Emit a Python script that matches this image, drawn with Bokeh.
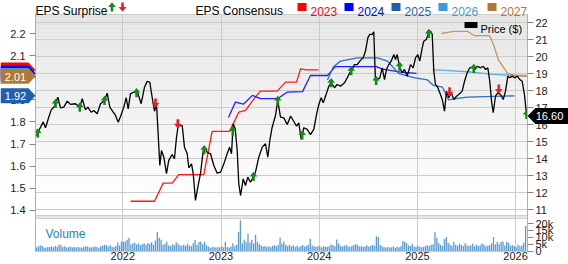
import numpy as np
from bokeh.plotting import figure
from bokeh.layouts import column
from bokeh.core.properties import value
from bokeh.models import (Range1d, LinearAxis, FixedTicker, PrintfTickFormatter,
                          CustomJSTickFormatter, Label, PolyAnnotation, ColumnDataSource)
from bokeh.embed import file_html
from bokeh.resources import INLINE

# ---------------- data ----------------
price_t = [2021.121, 2021.162, 2021.189, 2021.213, 2021.246, 2021.271, 2021.304, 2021.338, 2021.366, 2021.399,
           2021.434, 2021.467, 2021.518, 2021.562, 2021.587, 2021.620, 2021.644, 2021.678, 2021.705, 2021.739,
           2021.773, 2021.814, 2021.841, 2021.868, 2021.892, 2021.926, 2021.953, 2021.977, 2022.010, 2022.035,
           2022.055, 2022.078, 2022.112, 2022.153, 2022.187, 2022.221, 2022.248, 2022.275, 2022.299, 2022.323,
           2022.343, 2022.360, 2022.377, 2022.394, 2022.418, 2022.445, 2022.468, 2022.503, 2022.526, 2022.547,
           2022.564, 2022.605, 2022.628, 2022.656, 2022.672, 2022.700, 2022.717, 2022.740, 2022.764, 2022.791,
           2022.819, 2022.842, 2022.859, 2022.893, 2022.927, 2022.961, 2022.995, 2023.029, 2023.063, 2023.087,
           2023.107, 2023.124, 2023.145, 2023.165, 2023.181, 2023.199, 2023.226, 2023.249, 2023.273, 2023.300,
           2023.328, 2023.351, 2023.385, 2023.420, 2023.453, 2023.477, 2023.497, 2023.521, 2023.555, 2023.578,
           2023.606, 2023.640, 2023.674, 2023.708, 2023.741, 2023.769, 2023.792, 2023.817, 2023.843, 2023.878,
           2023.911, 2023.945, 2023.973, 2023.996, 2024.020, 2024.041, 2024.064, 2024.098, 2024.122, 2024.156,
           2024.183, 2024.217, 2024.258, 2024.285, 2024.312, 2024.336, 2024.359, 2024.387, 2024.413, 2024.448,
           2024.471, 2024.495, 2024.515, 2024.540, 2024.556, 2024.573, 2024.591, 2024.617, 2024.642, 2024.665,
           2024.685, 2024.709, 2024.733, 2024.760, 2024.777, 2024.794, 2024.821, 2024.845, 2024.869, 2024.896,
           2024.930, 2024.957, 2024.981, 2025.004, 2025.024, 2025.049, 2025.065, 2025.090, 2025.110, 2025.133,
           2025.151, 2025.167, 2025.184, 2025.208, 2025.228, 2025.253, 2025.276, 2025.296, 2025.320, 2025.344,
           2025.371, 2025.398, 2025.422, 2025.456, 2025.480, 2025.507, 2025.534, 2025.558, 2025.585, 2025.609,
           2025.643, 2025.670, 2025.694, 2025.717, 2025.737, 2025.755, 2025.772, 2025.795, 2025.819, 2025.846,
           2025.874, 2025.897, 2025.921, 2025.941, 2025.965, 2025.989, 2026.016, 2026.043, 2026.067, 2026.090,
           2026.111]
price_v = [15.36, 15.85, 16.15, 15.82, 16.44, 16.87, 17.07, 17.61, 16.99, 17.03,
           17.38, 17.19, 17.23, 17.03, 17.52, 16.87, 17.03, 16.73, 16.83, 16.64,
           17.23, 17.42, 17.85, 17.03, 16.83, 16.54, 16.15, 16.48, 17.03, 17.58,
           16.93, 17.81, 17.91, 17.85, 17.23, 18.20, 18.55, 18.49, 17.61, 16.79,
           17.23, 15.46, 13.60, 14.48, 14.09, 13.12, 13.90, 14.25, 14.00, 15.27,
           15.95, 15.95, 14.68, 14.29, 13.47, 13.70, 13.12, 11.55, 12.33, 13.12,
           14.48, 14.58, 14.38, 14.29, 13.60, 13.15, 13.21, 13.70, 14.29, 14.68,
           14.29, 16.05, 15.76, 14.48, 12.53, 11.84, 12.82, 12.43, 12.92, 12.62,
           12.92, 13.21, 14.09, 14.68, 14.88, 14.09, 15.07, 15.85, 16.54, 17.42,
           16.44, 16.40, 16.01, 16.50, 16.20, 15.91, 16.11, 15.13, 15.82, 15.72,
           15.42, 15.72, 16.60, 17.19, 17.58, 17.28, 17.67, 18.26, 18.46, 18.17,
           18.36, 18.26, 18.46, 18.75, 19.05, 19.24, 19.53, 19.53, 19.73, 19.93,
           20.31, 21.10, 21.30, 21.30, 21.45, 18.55, 18.65, 18.75, 19.34, 18.65,
           19.24, 19.53, 19.73, 20.12, 19.83, 20.12, 19.34, 19.05, 19.24, 18.85,
           19.53, 19.34, 19.93, 20.12, 19.73, 20.51, 20.90, 21.00, 21.30, 21.49,
           21.30, 19.14, 18.36, 18.17, 17.87, 17.48, 16.79, 17.97, 17.58, 17.87,
           17.48, 17.67, 17.77, 17.97, 18.55, 19.05, 19.34, 19.38, 19.24, 19.43,
           19.34, 19.43, 19.24, 19.34, 18.55, 17.38, 16.70, 17.67, 17.87, 17.77,
           17.48, 17.97, 18.85, 18.75, 18.85, 18.75, 18.85, 18.65, 18.55, 17.77,
           16.60]

surprise_t = [2021.134, 2021.315, 2021.562, 2021.814, 2022.140, 2022.333, 2022.560, 2022.829,
              2023.120, 2023.331, 2023.578, 2023.827, 2024.122, 2024.326, 2024.580, 2024.818,
              2025.116, 2025.327, 2025.574, 2025.829, 2026.111]
surprise_dir = ["up", "up", "up", "up", "up", "down", "down", "up",
                "up", "up", "up", "up", "up", "up", "up", "up",
                "up", "down", "up", "down", "up"]

cons_years = ["2023", "2024", "2025", "2026", "2027"]
cons_t = {
    "2023": [2022.078, 2022.323, 2022.411, 2022.503, 2022.570, 2022.825, 2022.910, 2023.087, 2023.181,
             2023.250, 2023.328, 2023.402, 2023.572, 2023.657, 2023.769, 2023.810, 2023.871, 2023.993],
    "2024": [2023.076, 2023.147, 2023.229, 2023.320, 2023.402, 2023.575, 2023.677, 2023.830, 2023.911,
             2024.084, 2024.165, 2024.583, 2024.634, 2024.828, 2024.991],
    "2025": [2024.084, 2024.145, 2024.217, 2024.390, 2024.594, 2024.696, 2024.808, 2024.961, 2025.103,
             2025.164, 2025.256, 2025.317, 2025.388, 2025.510, 2025.989],
    "2026": [2025.154, 2025.286, 2025.510, 2025.775, 2025.989, 2026.111],
    "2027": [2025.245, 2025.367, 2025.510, 2025.581, 2025.734, 2025.775, 2025.826, 2025.918, 2025.989, 2026.121],
}
cons_v = {
    "2023": [1.441, 1.441, 1.523, 1.523, 1.561, 1.561, 1.757, 1.757, 1.844,
             1.852, 1.900, 1.939, 1.939, 1.980, 1.980, 2.040, 2.035, 2.035],
    "2024": [1.82, 1.89, 1.88, 1.92, 1.905, 1.905, 1.935, 1.937, 2.01,
             2.01, 2.05, 2.05, 2.04, 2.025, 2.02],
    "2025": [1.99, 2.05, 2.075, 2.09, 2.09, 2.075, 2.02, 2.00, 1.99,
             1.965, 1.957, 1.90, 1.905, 1.912, 1.918],
    "2026": [2.035, 2.033, 2.027, 2.015, 2.01, 2.01],
    "2027": [2.20, 2.21, 2.21, 2.19, 2.19, 2.15, 2.08, 2.02, 2.01, 2.006],
}
cons_line_color = {"2023": "#ff1a1a", "2024": "#1f1fff", "2025": "#2f6fc2", "2026": "#5aaee0", "2027": "#c8955a"}
cons_key_color = {"2023": "#ff0000", "2024": "#0000ff", "2025": "#1f5fae", "2026": "#3d9ad8", "2027": "#b07a34"}

vol_start = 2021.121
vol_k = [2.5, 3.5, 4.0, 3.8, 2.6, 2.4, 2.9, 3.0, 3.3, 2.8, 3.6, 3.1, 4.8,
         4.2, 3.0, 3.4, 2.6, 2.8, 3.2, 2.5, 2.9, 2.6, 3.0, 2.7, 2.4, 3.1,
         3.4, 3.2, 2.8, 2.6, 3.0, 3.3, 2.9, 2.2, 3.5, 3.8, 4.6, 4.1, 3.2,
         4.4, 3.0, 2.7, 3.6, 6.2, 4.0, 7.0, 6.8, 6.9, 8.2, 9.6, 4.9, 5.5,
         6.0, 4.8, 5.4, 4.2, 5.0, 5.6, 4.4, 5.8, 5.2, 6.4, 4.6, 7.6, 13.8,
         9.6, 8.2, 4.5, 5.2, 6.8, 4.0, 3.4, 5.0, 4.2, 6.4, 5.0, 4.1, 3.6,
         4.6, 3.8, 5.2, 4.0, 3.4, 5.6, 8.0, 4.4, 6.6, 6.9, 5.0, 6.8, 4.2,
         3.2, 2.4, 2.7, 2.9, 2.5, 3.0, 2.6, 3.4, 2.8, 6.8, 3.0, 2.6, 3.3,
         5.7, 3.4, 4.6, 13.8, 22.3, 5.5, 8.2, 6.4, 12.6, 6.2, 8.0, 5.4, 11.8,
         6.8, 5.0, 4.0, 3.3, 3.6, 3.0, 3.4, 2.8, 3.6, 4.2, 3.4, 4.5, 9.6,
         5.2, 7.0, 4.3, 3.4, 4.6, 3.2, 4.2, 3.0, 3.8, 2.7, 3.6, 4.4, 3.2,
         3.8, 4.6, 9.0, 4.0, 3.4, 3.0, 3.6, 3.2, 2.8, 3.4, 3.1, 2.9, 3.5,
         4.8, 4.2, 3.6, 8.4, 5.4, 3.6, 3.2, 3.8, 4.4, 3.4, 3.0, 3.6, 4.4,
         5.0, 4.6, 3.2, 3.6, 3.0, 3.4, 4.0, 3.3, 3.7, 4.6, 3.8, 10.7, 10.2,
         4.4, 3.4, 2.8, 2.6, 3.0, 2.5, 2.8, 3.2, 2.4, 3.0, 2.7, 3.4, 7.3,
         6.8, 5.6, 4.0, 3.6, 5.2, 3.3, 3.0, 3.8, 3.2, 2.8, 3.1, 3.6, 4.2,
         3.4, 4.6, 5.0, 13.7, 9.6, 5.8, 4.4, 3.6, 8.6, 10.2, 6.0, 4.8, 3.8,
         6.8, 4.6, 3.8, 5.2, 4.4, 3.6, 5.6, 4.2, 3.6, 4.0, 5.2, 3.4, 4.8,
         3.6, 4.2, 5.4, 4.6, 3.2, 3.8, 4.4, 5.6, 10.2, 4.8, 6.8, 5.0, 6.6,
         6.9, 4.0, 6.8, 6.0, 3.8, 4.2, 3.6, 2.8, 4.6, 3.4, 4.0, 6.0, 18.2]

year_ticks = [2022, 2023, 2024, 2025, 2026]
price_ticks = [11, 12, 13, 14, 15, 16, 17, 18, 19, 20, 21, 22]
eps_ticks = [1.4, 1.5, 1.6, 1.7, 1.8, 1.9, 2.0, 2.1, 2.2]
vol_ticks = [0, 5, 10, 15, 20]
vol_tick_labels = ["0", "5k", "10k", "15k", "20k"]

# ---------------- layout ----------------
FONT = "Liberation Sans"
W, H = 568, 264
FL, FR, FT, FB = 35, 41, 14, 13
FW, FH = W - FL - FR, H - FT - FB

X0 = 2022 - (122.3 - FL) / 98.2
X1 = 2022 + (FL + FW - 122.3) / 98.2
Y1 = 22 + (22 - FT) / 17.03
Y0 = 22 - (FT + FH - 22) / 17.03
E1 = 2.2 + (33 - FT) / 221.0
E0 = 2.2 - (FT + FH - 33) / 221.0
V1 = (250.5 - FT) / 1.375
V0 = -(FT + FH - 250.5) / 1.375

DXP = (X1 - X0) / FW
DYP = (Y1 - Y0) / FH


def cx(sx):
    return X0 + (sx - FL) * DXP


def cy(sy):
    return Y1 - (sy - FT) * DYP


def sy_price(v):
    return FT + (Y1 - v) / DYP


def sy_eps(e):
    return FT + (E1 - e) * FH / (E1 - E0)


p = figure(width=W, height=H, x_range=Range1d(X0, X1), y_range=Range1d(Y0, Y1),
           output_backend="svg", toolbar_location=None, y_axis_location="right",
           min_border_left=FL, min_border_right=FR, min_border_top=FT, min_border_bottom=FB,
           background_fill_color="white", border_fill_color="white",
           outline_line_color="#c8c8c8")
p.extra_y_ranges = {"eps": Range1d(E0, E1), "vol": Range1d(V0, V1)}

# background gradient of the price panel (horizontal bands)
nb = 50
edges = np.linspace(215, 14, nb + 1)
bb, bt, bc = [], [], []
for i in range(nb):
    mid = 0.5 * (edges[i] + edges[i + 1])
    g = 255 if mid >= 205 else int(round(255 - 27 * (205 - mid) / 191))
    bb.append(cy(edges[i]))
    bt.append(cy(edges[i + 1]))
    bc.append("#%02x%02x%02x" % (g, g, g))
p.quad(left=X0, right=X1, bottom=bb, top=bt, fill_color=bc, line_color=None, level="image")

# separator between price and volume panels
p.quad(left=X0, right=X1, bottom=cy(218), top=cy(215), fill_color="#e6e6e6",
       line_color="#d0d0d0", line_width=1, level="underlay")

# grids
p.xgrid[0].ticker = FixedTicker(ticks=year_ticks)
p.ygrid[0].ticker = FixedTicker(ticks=price_ticks)
for g in (p.xgrid[0], p.ygrid[0]):
    g.grid_line_color = "#cccccc"
    g.grid_line_width = 1

# right axis: price + volume ticks
ra = p.yaxis[0]
vol_as_price = [Y0 + (v - V0) / (V1 - V0) * (Y1 - Y0) for v in vol_ticks]
all_ticks = [float(t) for t in price_ticks] + vol_as_price
all_labels = [str(t) for t in price_ticks] + vol_tick_labels
ra.ticker = FixedTicker(ticks=all_ticks)
ra.formatter = CustomJSTickFormatter(args=dict(vals=all_ticks, labs=all_labels), code="""
for (let i = 0; i < vals.length; i++) { if (Math.abs(tick - vals[i]) < 1e-6) return labs[i]; }
return "";
""")

# left axis: EPS
la = LinearAxis(y_range_name="eps", ticker=FixedTicker(ticks=eps_ticks),
                formatter=PrintfTickFormatter(format="%.1f"))
p.add_layout(la, "left")

for ax in (ra, la):
    ax.axis_line_color = "#b0b0b0"
    ax.major_tick_line_color = "#888888"
    ax.major_tick_out = 6
    ax.major_tick_in = 0
    ax.minor_tick_line_color = None
    ax.major_label_text_font = FONT
    ax.major_label_text_font_size = "11px"
    ax.major_label_text_color = "#222222"
ra.major_label_standoff = 2
la.major_label_standoff = 4

xa = p.xaxis[0]
xa.ticker = FixedTicker(ticks=year_ticks)
xa.formatter = PrintfTickFormatter(format="%d")
xa.axis_line_color = None
xa.major_tick_line_color = None
xa.major_tick_out = 0
xa.major_tick_in = 0
xa.minor_tick_line_color = None
xa.major_label_standoff = 0
xa.major_label_text_font = FONT
xa.major_label_text_font_size = "11px"
xa.major_label_text_color = "#222222"

# volume bars
vol_t = [vol_start + i / 52.0 for i in range(len(vol_k))]
p.vbar(x=vol_t, top=vol_k, bottom=0, width=0.7 / 52.0, y_range_name="vol",
       fill_color="#5b9bd5", line_color=None)

# consensus lines
for yr in cons_years:
    p.line(cons_t[yr], cons_v[yr], y_range_name="eps", line_color=cons_line_color[yr], line_width=1.3)

# price line
p.line(price_t, price_v, line_color="black", line_width=1.3)

# EPS surprise arrows
UP = [(-3.8, 0), (0, 4.8), (3.8, 0), (1.3, 0), (1.3, -4.5), (-1.3, -4.5), (-1.3, 0)]
DOWN = [(-3.8, 4.5), (0, -0.3), (3.8, 4.5), (1.3, 4.5), (1.3, 9.0), (-1.3, 9.0), (-1.3, 4.5)]
surprise_y = np.interp(surprise_t, price_t, price_v)
axs, ays, acol = [], [], []
for t, yv, d in zip(surprise_t, surprise_y, surprise_dir):
    shape = UP if d == "up" else DOWN
    axs.append([t + dx * DXP for dx, dy in shape])
    ays.append([yv + dy * DYP for dx, dy in shape])
    acol.append("#138a13" if d == "up" else "#ee1c1c")
p.patches(xs="xs", ys="ys", fill_color="c", line_color=None,
          source=ColumnDataSource(dict(xs=axs, ys=ays, c=acol)))

# in-frame annotations: price legend and volume label
p.add_layout(PolyAnnotation(xs=[cx(464), cx(477), cx(477), cx(464)],
                            ys=[cy(21.5), cy(21.5), cy(27.5), cy(27.5)],
                            fill_color="black", fill_alpha=1.0, line_color=None))
p.add_layout(Label(x=cx(480), y=cy(28.3), text="Price ($)", text_font=FONT, text_font_size="11px",
                   text_color="black", text_baseline="alphabetic"))
p.add_layout(Label(x=cx(45), y=cy(233), text="Volume", text_font=FONT, text_font_size="12px",
                   text_color="#2a7bc6", text_baseline="alphabetic"))

# ---------------- overlay (pixel space) for items outside the plot frame ----------------
ov = figure(width=W, height=H, x_range=Range1d(0, W), y_range=Range1d(H, 0),
            output_backend="svg", toolbar_location=None, x_axis_location=None, y_axis_location=None,
            min_border_left=0, min_border_right=0, min_border_top=0, min_border_bottom=0,
            background_fill_color=None, border_fill_color=None, outline_line_color=None)
ov.background_fill_alpha = 0
ov.border_fill_alpha = 0
ov.xgrid.visible = False
ov.ygrid.visible = False
ov.margin = (-H, 0, 0, 0)
if "frame_align" in ov.properties():
    ov.frame_align = False
    p.frame_align = False


def ov_text(x, y, txt, color="black", size="12px", align="left", baseline="alphabetic"):
    ov.text(x=[x], y=[y], text=[txt], text_color=color, text_font=value(FONT),
            text_font_size=size, text_align=align, text_baseline=baseline)


def ov_poly(pts, color):
    ov.patch([a for a, b in pts], [b for a, b in pts], fill_color=color, line_color=None)


# top legend row
ov_text(35, 10.5, "EPS Surprise")
ov_poly([(111.5 + dx, 6.5 - dy) for dx, dy in UP], "#138a13")
ov_poly([(122 + dx, 11.0 - dy) for dx, dy in DOWN], "#ee1c1c")
ov_text(195, 10.5, "EPS Consensus")
for i, yr in enumerate(cons_years):
    sx = [297, 344, 391, 438, 487][i]
    ov_poly([(sx, 2.5), (sx + 9, 2.5), (sx + 9, 10.5), (sx, 10.5)], cons_key_color[yr])
    ov_text(sx + 13, 10.5, yr, color=cons_key_color[yr])

# left consensus tags (current values)
for yr in cons_years:
    v = cons_v[yr][-1]
    c = sy_eps(v)
    ov_poly([(0, c - 7.5), (28, c - 7.5), (35, c), (28, c + 7.5), (0, c + 7.5)], cons_key_color[yr])
    ov_text(15, c + 0.5, f"{v:.2f}", color="white", size="11px", align="center", baseline="middle")

# right price tag
last = price_v[-1]
c = sy_price(last) + 1.5
ov_poly([(527, c), (535, c - 8), (568, c - 8), (568, c + 8), (535, c + 8)], "black")
ov_text(549, c + 0.5, f"{last:.2f}", color="white", size="11px", align="center", baseline="middle")

lay = column(p, ov, spacing=0)
html = file_html(lay, INLINE, title="EPS chart")
open("out.html", "w").write(html)
